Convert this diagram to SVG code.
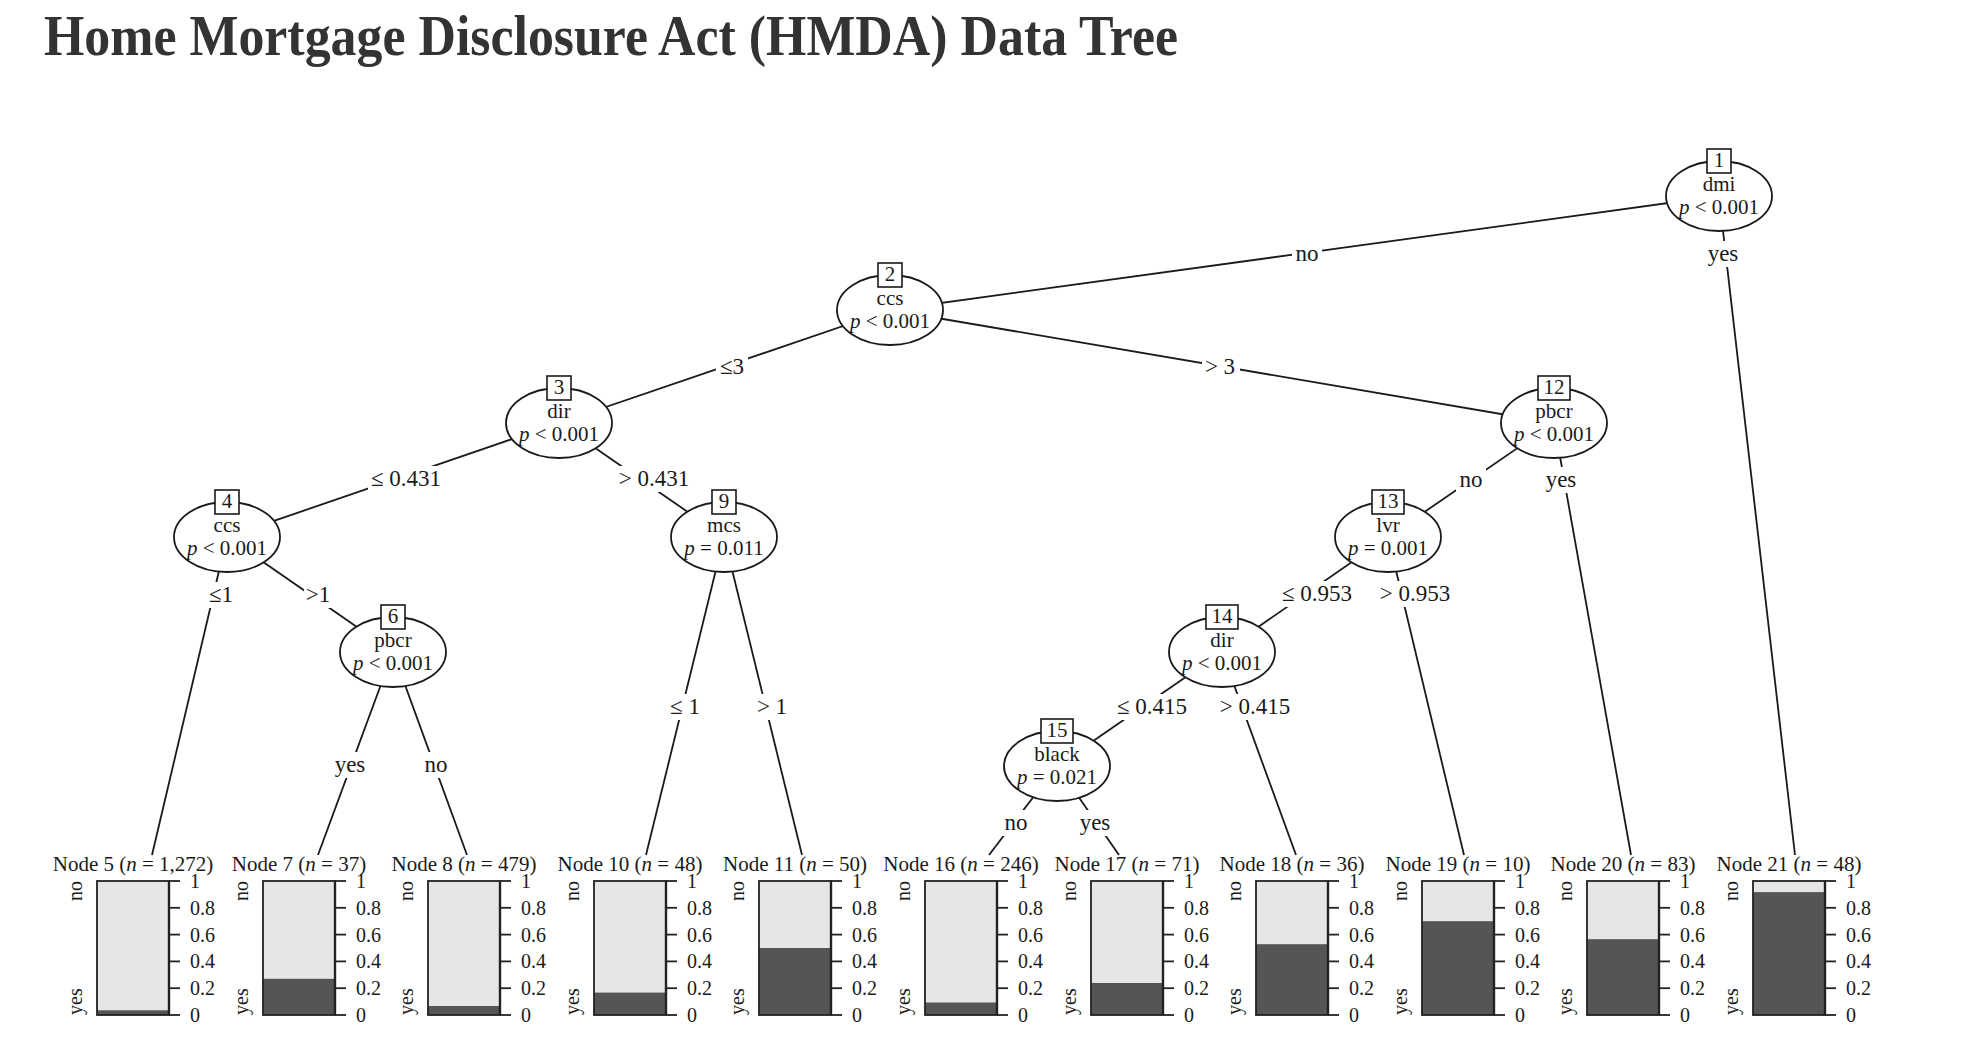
<svg xmlns="http://www.w3.org/2000/svg" xmlns:xlink="http://www.w3.org/1999/xlink" width="1972" height="1062" viewBox="0 0 1972 1062">
<style>
text{font-family:"Liberation Serif","Times New Roman",serif;fill:#1a1a1a}
.title{font-size:56px;font-weight:bold;fill:#333}
.nt{font-size:21px;text-anchor:middle}
.el{font-size:23px;text-anchor:middle}
.hd{font-size:21px;text-anchor:middle}
.ax{font-size:20px}
.it{font-style:italic}
.edge{stroke:#1a1a1a;stroke-width:1.8;fill:none}
.ell{fill:#fff;stroke:#1a1a1a;stroke-width:1.8}
.box{fill:#fff;stroke:#1a1a1a;stroke-width:1.6}
.lbg{fill:#fff;stroke:none}
.light{fill:#e6e6e6}
.dark{fill:#555}
.frame{fill:none;stroke:#222;stroke-width:1.8}
.axl{stroke:#222;stroke-width:2.4}
.tick{stroke:#222;stroke-width:1.8}
</style>
<defs>
<g id="axis">
<line class="axl" x1="72" y1="881" x2="72" y2="1015"/>
<line class="tick" x1="72" y1="1015" x2="83" y2="1015"/>
<line class="tick" x1="72" y1="988.2" x2="83" y2="988.2"/>
<line class="tick" x1="72" y1="961.4" x2="83" y2="961.4"/>
<line class="tick" x1="72" y1="934.6" x2="83" y2="934.6"/>
<line class="tick" x1="72" y1="907.8" x2="83" y2="907.8"/>
<line class="tick" x1="72" y1="881" x2="83" y2="881"/>
<text class="ax" x="93" y="1022">0</text>
<text class="ax" x="93" y="995.2">0.2</text>
<text class="ax" x="93" y="968.4">0.4</text>
<text class="ax" x="93" y="941.6">0.6</text>
<text class="ax" x="93" y="914.8">0.8</text>
<text class="ax" x="93" y="888">1</text>
<text class="ax" transform="translate(-15,881) rotate(-90)" text-anchor="end">no</text>
<text class="ax" transform="translate(-15,1015) rotate(-90)" text-anchor="start">yes</text>
</g>
</defs>
<rect width="1972" height="1062" fill="#fff"/>
<text class="title" x="44" y="55" textLength="1134" lengthAdjust="spacingAndGlyphs">Home Mortgage Disclosure Act (HMDA) Data Tree</text>

<g id="edges">
<line class="edge" x1="1719" y1="196" x2="890" y2="310"/>
<line class="edge" x1="1719" y1="196" x2="1795" y2="855"/>
<line class="edge" x1="890" y1="310" x2="559" y2="423"/>
<line class="edge" x1="890" y1="310" x2="1554" y2="423"/>
<line class="edge" x1="559" y1="423" x2="227" y2="537"/>
<line class="edge" x1="559" y1="423" x2="724" y2="537"/>
<line class="edge" x1="227" y1="537" x2="152" y2="855"/>
<line class="edge" x1="227" y1="537" x2="393" y2="652"/>
<line class="edge" x1="393" y1="652" x2="318" y2="855"/>
<line class="edge" x1="393" y1="652" x2="467" y2="855"/>
<line class="edge" x1="724" y1="537" x2="646" y2="855"/>
<line class="edge" x1="724" y1="537" x2="802" y2="855"/>
<line class="edge" x1="1554" y1="423" x2="1388" y2="537"/>
<line class="edge" x1="1554" y1="423" x2="1631" y2="855"/>
<line class="edge" x1="1388" y1="537" x2="1222" y2="652"/>
<line class="edge" x1="1388" y1="537" x2="1464" y2="855"/>
<line class="edge" x1="1222" y1="652" x2="1057" y2="766"/>
<line class="edge" x1="1222" y1="652" x2="1296" y2="855"/>
<line class="edge" x1="1057" y1="766" x2="989" y2="855"/>
<line class="edge" x1="1057" y1="766" x2="1119" y2="855"/>
</g>

<g id="edge-labels">
<rect class="lbg" x="1292" y="241" width="30" height="26"/><text class="el" x="1307" y="261">no</text>
<rect class="lbg" x="1704" y="241" width="38" height="26"/><text class="el" x="1723" y="261">yes</text>
<rect class="lbg" x="716" y="354" width="32" height="26"/><text class="el" x="732" y="374">≤3</text>
<rect class="lbg" x="1202" y="354" width="38" height="26"/><text class="el" x="1220" y="374">&gt; 3</text>
<rect class="lbg" x="368" y="466" width="76" height="26"/><text class="el" x="406" y="486">≤ 0.431</text>
<rect class="lbg" x="616" y="466" width="77" height="26"/><text class="el" x="654" y="486">&gt; 0.431</text>
<rect class="lbg" x="207" y="582" width="28" height="26"/><text class="el" x="221" y="602">≤1</text>
<rect class="lbg" x="304" y="582" width="28" height="26"/><text class="el" x="318" y="602">&gt;1</text>
<rect class="lbg" x="331" y="752" width="38" height="26"/><text class="el" x="350" y="772">yes</text>
<rect class="lbg" x="421" y="752" width="30" height="26"/><text class="el" x="436" y="772">no</text>
<rect class="lbg" x="668" y="694" width="34" height="26"/><text class="el" x="685" y="714">≤ 1</text>
<rect class="lbg" x="755" y="694" width="34" height="26"/><text class="el" x="772" y="714">&gt; 1</text>
<rect class="lbg" x="1456" y="467" width="30" height="26"/><text class="el" x="1471" y="487">no</text>
<rect class="lbg" x="1542" y="467" width="38" height="26"/><text class="el" x="1561" y="487">yes</text>
<rect class="lbg" x="1279" y="581" width="76" height="26"/><text class="el" x="1317" y="601">≤ 0.953</text>
<rect class="lbg" x="1377" y="581" width="77" height="26"/><text class="el" x="1415" y="601">&gt; 0.953</text>
<rect class="lbg" x="1114" y="694" width="76" height="26"/><text class="el" x="1152" y="714">≤ 0.415</text>
<rect class="lbg" x="1217" y="694" width="77" height="26"/><text class="el" x="1255" y="714">&gt; 0.415</text>
<rect class="lbg" x="1001" y="810" width="30" height="26"/><text class="el" x="1016" y="830">no</text>
<rect class="lbg" x="1076" y="810" width="38" height="26"/><text class="el" x="1095" y="830">yes</text>
</g>

<g id="node1">
<ellipse class="ell" cx="1719" cy="196" rx="53" ry="35"/>
<rect class="box" x="1707" y="149" width="24" height="24"/>
<text class="nt" x="1719" y="167">1</text>
<text class="nt" x="1719" y="190.5">dmi</text>
<text class="nt" x="1719" y="214"><tspan class="it">p</tspan> &lt; 0.001</text>
</g>
<g id="node2">
<ellipse class="ell" cx="890" cy="310" rx="53" ry="35"/>
<rect class="box" x="878" y="263" width="24" height="24"/>
<text class="nt" x="890" y="281">2</text>
<text class="nt" x="890" y="304.5">ccs</text>
<text class="nt" x="890" y="328"><tspan class="it">p</tspan> &lt; 0.001</text>
</g>
<g id="node3">
<ellipse class="ell" cx="559" cy="423" rx="53" ry="35"/>
<rect class="box" x="547" y="376" width="24" height="24"/>
<text class="nt" x="559" y="394">3</text>
<text class="nt" x="559" y="417.5">dir</text>
<text class="nt" x="559" y="441"><tspan class="it">p</tspan> &lt; 0.001</text>
</g>
<g id="node4">
<ellipse class="ell" cx="227" cy="537" rx="53" ry="35"/>
<rect class="box" x="215" y="490" width="24" height="24"/>
<text class="nt" x="227" y="508">4</text>
<text class="nt" x="227" y="531.5">ccs</text>
<text class="nt" x="227" y="555"><tspan class="it">p</tspan> &lt; 0.001</text>
</g>
<g id="node6">
<ellipse class="ell" cx="393" cy="652" rx="53" ry="35"/>
<rect class="box" x="381" y="605" width="24" height="24"/>
<text class="nt" x="393" y="623">6</text>
<text class="nt" x="393" y="646.5">pbcr</text>
<text class="nt" x="393" y="670"><tspan class="it">p</tspan> &lt; 0.001</text>
</g>
<g id="node9">
<ellipse class="ell" cx="724" cy="537" rx="53" ry="35"/>
<rect class="box" x="712" y="490" width="24" height="24"/>
<text class="nt" x="724" y="508">9</text>
<text class="nt" x="724" y="531.5">mcs</text>
<text class="nt" x="724" y="555"><tspan class="it">p</tspan> = 0.011</text>
</g>
<g id="node12">
<ellipse class="ell" cx="1554" cy="423" rx="53" ry="35"/>
<rect class="box" x="1538" y="376" width="32" height="24"/>
<text class="nt" x="1554" y="394">12</text>
<text class="nt" x="1554" y="417.5">pbcr</text>
<text class="nt" x="1554" y="441"><tspan class="it">p</tspan> &lt; 0.001</text>
</g>
<g id="node13">
<ellipse class="ell" cx="1388" cy="537" rx="53" ry="35"/>
<rect class="box" x="1372" y="490" width="32" height="24"/>
<text class="nt" x="1388" y="508">13</text>
<text class="nt" x="1388" y="531.5">lvr</text>
<text class="nt" x="1388" y="555"><tspan class="it">p</tspan> = 0.001</text>
</g>
<g id="node14">
<ellipse class="ell" cx="1222" cy="652" rx="53" ry="35"/>
<rect class="box" x="1206" y="605" width="32" height="24"/>
<text class="nt" x="1222" y="623">14</text>
<text class="nt" x="1222" y="646.5">dir</text>
<text class="nt" x="1222" y="670"><tspan class="it">p</tspan> &lt; 0.001</text>
</g>
<g id="node15">
<ellipse class="ell" cx="1057" cy="766" rx="53" ry="35"/>
<rect class="box" x="1041" y="719" width="32" height="24"/>
<text class="nt" x="1057" y="737">15</text>
<text class="nt" x="1057" y="760.5">black</text>
<text class="nt" x="1057" y="784"><tspan class="it">p</tspan> = 0.021</text>
</g>

<g id="node5" transform="translate(97,0)">
<text class="hd" x="36" y="871">Node 5 (<tspan class="it">n</tspan> = 1,272)</text>
<rect class="light" x="0" y="881" width="72" height="134"/>
<rect class="dark" x="0" y="1010.3" width="72" height="4.7"/>
<rect class="frame" x="0" y="881" width="72" height="134"/>
<use xlink:href="#axis" href="#axis"/>
</g>
<g id="node7" transform="translate(263,0)">
<text class="hd" x="36" y="871">Node 7 (<tspan class="it">n</tspan> = 37)</text>
<rect class="light" x="0" y="881" width="72" height="134"/>
<rect class="dark" x="0" y="978.8" width="72" height="36.2"/>
<rect class="frame" x="0" y="881" width="72" height="134"/>
<use xlink:href="#axis" href="#axis"/>
</g>
<g id="node8" transform="translate(428,0)">
<text class="hd" x="36" y="871">Node 8 (<tspan class="it">n</tspan> = 479)</text>
<rect class="light" x="0" y="881" width="72" height="134"/>
<rect class="dark" x="0" y="1006" width="72" height="9"/>
<rect class="frame" x="0" y="881" width="72" height="134"/>
<use xlink:href="#axis" href="#axis"/>
</g>
<g id="node10" transform="translate(594,0)">
<text class="hd" x="36" y="871">Node 10 (<tspan class="it">n</tspan> = 48)</text>
<rect class="light" x="0" y="881" width="72" height="134"/>
<rect class="dark" x="0" y="992.6" width="72" height="22.4"/>
<rect class="frame" x="0" y="881" width="72" height="134"/>
<use xlink:href="#axis" href="#axis"/>
</g>
<g id="node11" transform="translate(759,0)">
<text class="hd" x="36" y="871">Node 11 (<tspan class="it">n</tspan> = 50)</text>
<rect class="light" x="0" y="881" width="72" height="134"/>
<rect class="dark" x="0" y="948" width="72" height="67"/>
<rect class="frame" x="0" y="881" width="72" height="134"/>
<use xlink:href="#axis" href="#axis"/>
</g>
<g id="node16" transform="translate(925,0)">
<text class="hd" x="36" y="871">Node 16 (<tspan class="it">n</tspan> = 246)</text>
<rect class="light" x="0" y="881" width="72" height="134"/>
<rect class="dark" x="0" y="1002.5" width="72" height="12.5"/>
<rect class="frame" x="0" y="881" width="72" height="134"/>
<use xlink:href="#axis" href="#axis"/>
</g>
<g id="node17" transform="translate(1091,0)">
<text class="hd" x="36" y="871">Node 17 (<tspan class="it">n</tspan> = 71)</text>
<rect class="light" x="0" y="881" width="72" height="134"/>
<rect class="dark" x="0" y="983" width="72" height="32"/>
<rect class="frame" x="0" y="881" width="72" height="134"/>
<use xlink:href="#axis" href="#axis"/>
</g>
<g id="node18" transform="translate(1256,0)">
<text class="hd" x="36" y="871">Node 18 (<tspan class="it">n</tspan> = 36)</text>
<rect class="light" x="0" y="881" width="72" height="134"/>
<rect class="dark" x="0" y="944.2" width="72" height="70.8"/>
<rect class="frame" x="0" y="881" width="72" height="134"/>
<use xlink:href="#axis" href="#axis"/>
</g>
<g id="node19" transform="translate(1422,0)">
<text class="hd" x="36" y="871">Node 19 (<tspan class="it">n</tspan> = 10)</text>
<rect class="light" x="0" y="881" width="72" height="134"/>
<rect class="dark" x="0" y="921.2" width="72" height="93.8"/>
<rect class="frame" x="0" y="881" width="72" height="134"/>
<use xlink:href="#axis" href="#axis"/>
</g>
<g id="node20" transform="translate(1587,0)">
<text class="hd" x="36" y="871">Node 20 (<tspan class="it">n</tspan> = 83)</text>
<rect class="light" x="0" y="881" width="72" height="134"/>
<rect class="dark" x="0" y="939.2" width="72" height="75.8"/>
<rect class="frame" x="0" y="881" width="72" height="134"/>
<use xlink:href="#axis" href="#axis"/>
</g>
<g id="node21" transform="translate(1753,0)">
<text class="hd" x="36" y="871">Node 21 (<tspan class="it">n</tspan> = 48)</text>
<rect class="light" x="0" y="881" width="72" height="134"/>
<rect class="dark" x="0" y="892.1" width="72" height="122.9"/>
<rect class="frame" x="0" y="881" width="72" height="134"/>
<use xlink:href="#axis" href="#axis"/>
</g>
</svg>
